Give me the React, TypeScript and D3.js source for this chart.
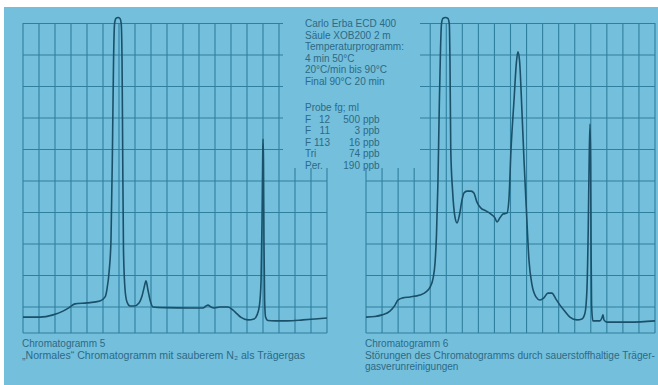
import React from "react";
import * as d3 from "d3";

const W = 658;
const H = 385;

// recorder paper: grid columns and rows (in chart divisions)
const leftCols = d3.range(0, 20);
const rightCols = d3.range(0, 19);
const rows = d3.range(0, 10);

// Chromatogramm 5 – [division along time, division of signal]
const trace5: [number, number][] = [
  [0, -0.32], [1.06, -0.32], [1.88, -0.25], [2.5, -0.13], [2.94, 0], [3.25, 0.1],
  [4.0, 0.13], [4.81, 0.19], [5.13, 0.32], [5.25, 0.57], [5.38, 1.11], [5.5, 2.13],
  [5.59, 4.98], [5.66, 7.84], [5.72, 8.98], [5.81, 9.16], [5.94, 9.19], [6.06, 9.16],
  [6.14, 8.98], [6.19, 7.84], [6.23, 4.98], [6.28, 1.81], [6.38, 0.54], [6.5, 0.16],
  [6.69, 0.03], [6.94, 0.03], [7.25, 0.13], [7.44, 0.35], [7.56, 0.6], [7.69, 0.83],
  [7.81, 0.54], [7.94, 0.22], [8.13, 0], [8.88, -0.02], [10.44, -0.03], [11.25, -0.03],
  [11.44, 0.03], [11.56, 0.06], [11.75, 0], [11.94, -0.03], [12.31, 0], [12.81, 0],
  [13.13, -0.1], [13.38, -0.22], [13.63, -0.33], [14.06, -0.41], [14.44, -0.38],
  [14.63, -0.25], [14.78, 0.06], [14.88, 0.86], [14.94, 2.76], [14.98, 4.67], [15.0, 5.33],
  [15.03, 4.67], [15.06, 2.13], [15.1, 0.22], [15.16, -0.32], [15.31, -0.43], [15.75, -0.44],
  [16.5, -0.44], [17.5, -0.41], [18.25, -0.38], [19, -0.35],
];

// Chromatogramm 6
const trace6: [number, number][] = [
  [0, -0.32], [0.56, -0.3], [1.0, -0.25], [1.49, -0.13], [1.81, 0.06], [1.99, 0.22],
  [2.3, 0.29], [2.74, 0.32], [3.36, 0.38], [3.74, 0.48], [3.99, 0.63], [4.17, 0.89],
  [4.3, 1.4], [4.39, 2.29], [4.48, 3.94], [4.56, 6.25], [4.64, 8.16], [4.7, 8.98],
  [4.79, 9.16], [4.95, 9.19], [5.1, 9.16], [5.19, 8.98], [5.23, 7.84], [5.28, 4.98],
  [5.39, 3.71], [5.54, 2.86], [5.67, 2.67], [5.82, 2.92], [5.98, 3.4], [6.1, 3.62],
  [6.29, 3.68], [6.54, 3.68], [6.72, 3.62], [6.91, 3.33], [7.16, 3.14], [7.47, 3.05],
  [7.78, 2.95], [8.03, 2.83], [8.16, 2.7], [8.34, 2.83], [8.53, 2.95], [8.78, 2.98],
  [8.9, 3.4], [9.03, 4.98], [9.22, 6.57], [9.37, 7.78], [9.46, 8.1], [9.56, 7.84],
  [9.71, 6.25], [9.84, 4.67], [9.99, 3.08], [10.15, 1.49], [10.34, 0.7], [10.59, 0.32],
  [10.83, 0.22], [11.08, 0.29], [11.33, 0.44], [11.58, 0.44], [11.83, 0.25], [12.08, 0.06],
  [12.33, -0.1], [12.7, -0.32], [13.14, -0.41], [13.45, -0.38], [13.64, -0.19], [13.76, 0.54],
  [13.84, 2.44], [13.9, 4.67], [13.95, 5.81], [13.99, 4.67], [14.02, 1.81], [14.05, 0.06],
  [14.13, -0.44], [14.57, -0.44], [14.69, -0.35], [14.76, -0.25], [14.82, -0.41],
  [15.01, -0.48], [16.44, -0.48], [18.0, -0.44],
];

const setupLines = [
  "Carlo Erba ECD 400",
  "Säule XOB200 2 m",
  "Temperaturprogramm:",
  "4 min 50°C",
  "20°C/min bis 90°C",
  "Final 90°C 20 min",
];
const sampleHeader = "Probe fg; ml";
const compounds = ["F", "F", "F", "Tri", "Per."];
const compoundNo = ["12", "11", "113", "", ""];
const concentrations = [500, 3, 16, 74, 190];
const unit = "ppb";

const captionLeft = ["Chromatogramm 5", "„Normales“ Chromatogramm mit sauberem N₂ als Trägergas"];
const captionRight = [
  "Chromatogramm 6",
  "Störungen des Chromatogramms durch sauerstoffhaltige Träger-",
  "gasverunreinigungen",
];

const BG = "#74bfdc";
const GRID = "#2f7f9e";
const INK = "#1a5069";
const TEXT = "#2d6a85";

export default function App() {
  const y = d3.scaleLinear().domain([0, 9]).range([307, 23.5]);
  const xL = d3.scaleLinear().domain([0, 19]).range([23, 327]);
  const xR = d3.scaleLinear().domain([0, 18]).range([366, 655]);
  const gridBottom = 333;
  const cutBottom = 168; // text block area without grid

  const lineL = d3
    .line<[number, number]>()
    .x(d => xL(d[0]))
    .y(d => y(d[1]))
    .curve(d3.curveMonotoneX);
  const lineR = d3
    .line<[number, number]>()
    .x(d => xR(d[0]))
    .y(d => y(d[1]))
    .curve(d3.curveMonotoneX);

  const font = "'Liberation Sans', Arial, sans-serif";

  return (
    <svg
      width={W}
      height={H}
      style={{ position: "absolute", left: 0, top: 0, display: "block" }}
    >
      <rect width={W} height={H} fill="#fff" />
      <rect x={4} y={7} width={W - 4} height={H - 7} fill={BG} />

      {/* left grid */}
      <g stroke={GRID} strokeWidth={1.1}>
        {leftCols.map(c => {
          const x = xL(c);
          return <line key={"lc" + c} x1={x} x2={x} y1={x > 284 ? cutBottom : 23} y2={gridBottom} />;
        })}
        {rows.map(r => {
          const yy = y(r);
          return <line key={"lr" + r} x1={23} x2={yy < cutBottom ? 283 : 327} y1={yy} y2={yy} />;
        })}
        <line x1={23} x2={327} y1={gridBottom} y2={gridBottom} />
      </g>

      {/* right grid */}
      <g stroke={GRID} strokeWidth={1.1}>
        {rightCols.map(c => {
          const x = xR(c);
          return <line key={"rc" + c} x1={x} x2={x} y1={x < 420 ? cutBottom : 23} y2={gridBottom} />;
        })}
        {rows.map(r => {
          const yy = y(r);
          return <line key={"rr" + r} x1={yy < cutBottom ? 420 : 366} x2={655} y1={yy} y2={yy} />;
        })}
        <line x1={366} x2={655} y1={gridBottom} y2={gridBottom} />
      </g>

      {/* traces */}
      <path d={lineL(trace5) || ""} fill="none" stroke={INK} strokeWidth={1.6} strokeLinejoin="round" />
      <path d={lineR(trace6) || ""} fill="none" stroke={INK} strokeWidth={1.6} strokeLinejoin="round" />

      {/* conditions */}
      <g fill={TEXT} fontFamily={font} fontSize={10}>
        {setupLines.map((t, i) => (
          <text key={"s" + i} x={305} y={27 + i * 11.5}>{t}</text>
        ))}
        <text x={305} y={111}>{sampleHeader}</text>
        {compounds.map((c, i) => {
          const yy = 122.5 + i * 11.5;
          return (
            <g key={"c" + i}>
              <text x={305} y={yy}>{c}</text>
              <text x={330} y={yy} textAnchor="end">{compoundNo[i]}</text>
              <text x={360} y={yy} textAnchor="end">{concentrations[i]}</text>
              <text x={363} y={yy}>{unit}</text>
            </g>
          );
        })}
      </g>

      {/* captions */}
      <g fill={TEXT} fontFamily={font} fontSize={10}>
        <text x={22} y={347}>{captionLeft[0]}</text>
        <text x={22} y={359} textLength={283} lengthAdjust="spacingAndGlyphs">{captionLeft[1]}</text>
        <text x={365} y={347}>{captionRight[0]}</text>
        <text x={365} y={359} textLength={290} lengthAdjust="spacingAndGlyphs">{captionRight[1]}</text>
        <text x={365} y={370}>{captionRight[2]}</text>
      </g>
    </svg>
  );
}
